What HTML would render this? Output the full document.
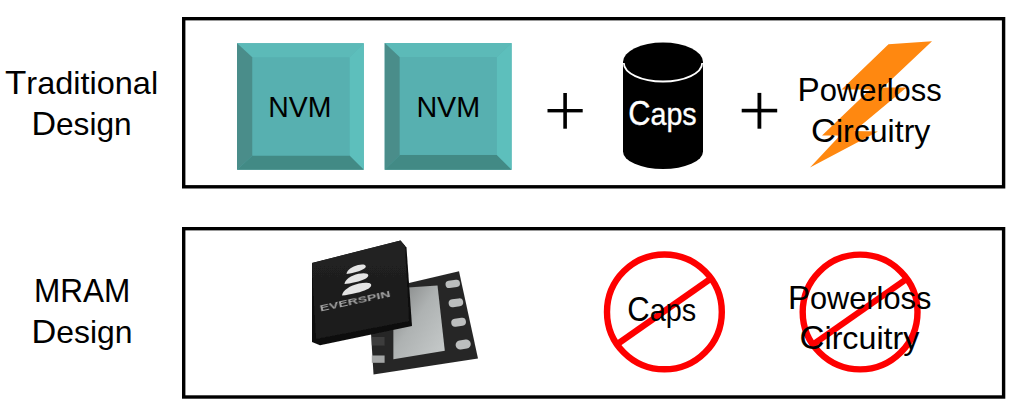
<!DOCTYPE html>
<html>
<head>
<meta charset="utf-8">
<style>
html,body{margin:0;padding:0;background:#fff;}
body{width:1018px;height:412px;overflow:hidden;}
svg{display:block;}
text{font-family:"Liberation Sans",sans-serif;}
</style>
</head>
<body>
<svg width="1018" height="412" viewBox="0 0 1018 412">
<rect x="0" y="0" width="1018" height="412" fill="#fff"/>

<!-- left labels -->
<g id="labels" fill="#000" font-size="33.5">
  <text id="trad" x="5.00" y="94.0" font-size="33.8" textLength="153.11" lengthAdjust="spacingAndGlyphs">T<tspan font-size="31.43">raditional</tspan></text>
  <text id="des1" x="31.46" y="135.2" font-size="33.8" textLength="100.17" lengthAdjust="spacingAndGlyphs">D<tspan font-size="31.43">esign</tspan></text>
  <text id="mram" x="33.93" y="302.0" font-size="33.8" textLength="96.42" lengthAdjust="spacingAndGlyphs">MRAM</text>
  <text id="des2" x="31.45" y="343.0" font-size="33.8" textLength="101.02" lengthAdjust="spacingAndGlyphs">D<tspan font-size="31.43">esign</tspan></text>
</g>

<!-- boxes -->
<rect x="183.7" y="18.7" width="819.9" height="168.1" fill="none" stroke="#000" stroke-width="3.4"/>
<rect x="183.7" y="228.7" width="819.9" height="168.3" fill="none" stroke="#000" stroke-width="3.4"/>

<!-- NVM blocks -->
<g id="blk1">
  <rect x="237" y="43.2" width="126.8" height="126.5" fill="#57b0b0"/>
  <polygon points="237,43.2 363.8,43.2 349.5,57.5 252.5,57.5" fill="#5cbab8"/>
  <polygon points="237,43.2 252.5,57.5 252.5,155.5 237,169.7" fill="#4a8d8a"/>
  <polygon points="363.8,43.2 363.8,169.7 349.5,155.5 349.5,57.5" fill="#5dbfbc"/>
  <polygon points="237,169.7 252.5,155.5 349.5,155.5 363.8,169.7" fill="#428a85"/>
  <rect x="252.5" y="57.5" width="97" height="98" fill="#57b0b0"/>
  <text id="nvm1" x="268.31" y="117" font-size="30.4" textLength="63.18" lengthAdjust="spacingAndGlyphs">NVM</text>
</g>
<g id="blk2">
  <rect x="384.7" y="43.1" width="126.9" height="126.7" fill="#57b0b0"/>
  <polygon points="384.7,43.1 511.6,43.1 496.7,57.2 399.8,57.2" fill="#5cbab8"/>
  <polygon points="384.7,43.1 399.8,57.2 399.8,154.9 384.7,169.8" fill="#4a8d8a"/>
  <polygon points="511.6,43.1 511.6,169.8 496.7,154.9 496.7,57.2" fill="#5dbfbc"/>
  <polygon points="384.7,169.8 399.8,154.9 496.7,154.9 511.6,169.8" fill="#428a85"/>
  <rect x="399.8" y="57.2" width="96.9" height="97.7" fill="#57b0b0"/>
  <text id="nvm2" x="416.39" y="117" font-size="30.4" textLength="63.85" lengthAdjust="spacingAndGlyphs">NVM</text>
</g>

<!-- plus signs -->
<g fill="#000">
  <rect x="547.5" y="109" width="35.2" height="3.4"/>
  <rect x="563.3" y="93" width="3.6" height="35.7"/>
  <rect x="741.7" y="108.8" width="35.5" height="3.6"/>
  <rect x="757.5" y="92.9" width="3.8" height="35.8"/>
</g>

<!-- caps cylinder -->
<g id="cyl">
  <path d="M623,62 A40,19.5 0 0 1 703,62 L703,151.5 A40,17.5 0 0 1 623,151.5 Z" fill="#000"/>
  <path d="M623.8,63 A39.2,18.5 0 0 0 702.2,63" fill="none" stroke="#fff" stroke-width="1.8"/>
  <text id="capsw" x="628.22" y="125.0" font-size="34.2" fill="#fff" stroke="#fff" stroke-width="0.35" textLength="68.46" lengthAdjust="spacingAndGlyphs">C<tspan font-size="31.81">aps</tspan></text>
</g>

<!-- lightning bolt -->
<polygon points="888.5,44.3 932,41.3 883,87.5 906.5,87.5 854.3,131 878,131.5 810,167.5 840,135.5 822,135.5 870,89.5 841.5,89.5" fill="#ff8810"/>
<g font-size="32.7">
  <text id="pow1" x="797.46" y="100.6" font-size="33.0" textLength="144.33" lengthAdjust="spacingAndGlyphs">P<tspan font-size="30.69">owerloss</tspan></text>
  <text id="circ1" x="811.00" y="142.0" font-size="33.0" textLength="119.40" lengthAdjust="spacingAndGlyphs">C<tspan font-size="30.69">ircuitry</tspan></text>
</g>

<!-- MRAM chip -->
<defs>
  <filter id="soft" x="-10%" y="-10%" width="120%" height="120%"><feGaussianBlur stdDeviation="0.7"/></filter>
  <filter id="soft3" x="-30%" y="-30%" width="160%" height="160%"><feGaussianBlur stdDeviation="0.6"/></filter>
  <filter id="soft2" x="-30%" y="-30%" width="160%" height="160%"><feGaussianBlur stdDeviation="1"/></filter>
  <linearGradient id="padg" x1="0" y1="0" x2="1" y2="1">
    <stop offset="0" stop-color="#7e8080"/>
    <stop offset="0.45" stop-color="#aeb2b2"/>
    <stop offset="1" stop-color="#c8cccc"/>
  </linearGradient>
  <linearGradient id="frontg" x1="0" y1="0" x2="0" y2="1">
    <stop offset="0" stop-color="#222"/>
    <stop offset="1" stop-color="#1a1a1a"/>
  </linearGradient>
</defs>
<g id="chip" filter="url(#soft)">
  <!-- back chip -->
  <polygon points="371,333 372,300 409,283 459,271.2 478,358.5 373.5,374.5" fill="#282828"/>
  <polygon points="393.4,288.5 437.5,285.5 444.8,350.8 393.4,359.3" fill="url(#padg)"/>
  <!-- right pads -->
  <g fill="#bcbebe">
    <rect x="445.5" y="280.3" width="14.5" height="7.2" rx="3.6" transform="rotate(-8 452.7 283.9)"/>
    <rect x="448.6" y="298.8" width="14.6" height="8" rx="4" transform="rotate(-8 455.9 302.8)"/>
    <rect x="451.2" y="318.2" width="14.8" height="8" rx="4" transform="rotate(-8 458.6 322.2)"/>
    <rect x="455.6" y="340" width="15.2" height="9" rx="4.5" transform="rotate(-8 463.2 344.5)"/>
  </g>
  <!-- left pads -->
  <rect x="371.8" y="355.5" width="12.8" height="7.3" fill="#a4a6a6"/>
  <rect x="371.8" y="337" width="12.8" height="8.5" fill="#3c3c3c"/>
  <!-- front chip -->
  <polygon points="312,263 400.5,240.5 406.5,247.5 412,326 320,345.2 312,342" fill="#0e0e0e"/>
  <polygon points="312,263 400.5,240.5 405,246 409,321 316,339" fill="url(#frontg)"/>
  <!-- logo -->
  <g fill="#e4e4e4" filter="url(#soft3)">
    <path d="M346.5,274 C347,270 352,266.5 358,265 C362,264 366,264.3 365.8,266.5 C365.5,269 360,271 355,272.3 C351,273.3 348,274 346.5,274 Z"/>
    <path d="M344.5,284 C345,279.5 351,275.5 358.5,273.8 C363.5,272.7 368.5,273 368.3,275.5 C368,278.5 362,280.5 356,282 C351,283.2 347,284 344.5,284 Z"/>
    <path d="M342,295.5 C342.5,290.5 350,285.5 359,283.5 C365,282.2 371.5,282.3 371.2,285.2 C371,288.5 364,291 357,292.8 C351,294.3 346,295.3 342,295.5 Z"/>
  </g>
  <text id="evs" x="0" y="0" font-size="9.4" font-weight="bold" fill="#a0a0a0" textLength="72" lengthAdjust="spacingAndGlyphs" transform="translate(320.5,311.5) rotate(-12)" filter="url(#soft3)">EVERSPIN</text>
</g>

<!-- no symbols -->
<g fill="none" stroke="#fe0000" stroke-width="6.4">
  <circle cx="664.4" cy="311.9" r="57.4"/>
  <line x1="711.5" y1="278.2" x2="617.3" y2="344.2"/>
  <circle cx="860.1" cy="312" r="57.4"/>
  <line x1="907.2" y1="278.5" x2="813.0" y2="344.5"/>
</g>
<g font-size="33">
  <text id="caps2" x="627.32" y="320.9" font-size="34.2" textLength="68.97" lengthAdjust="spacingAndGlyphs">C<tspan font-size="31.81">aps</tspan></text>
  <text id="pow2" x="787.88" y="308.8" font-size="33.0" textLength="143.42" lengthAdjust="spacingAndGlyphs">P<tspan font-size="30.69">owerloss</tspan></text>
  <text id="circ2" x="799.42" y="349.4" font-size="33.0" textLength="119.98" lengthAdjust="spacingAndGlyphs">C<tspan font-size="30.69">ircuitry</tspan></text>
</g>
</svg>
</body>
</html>
